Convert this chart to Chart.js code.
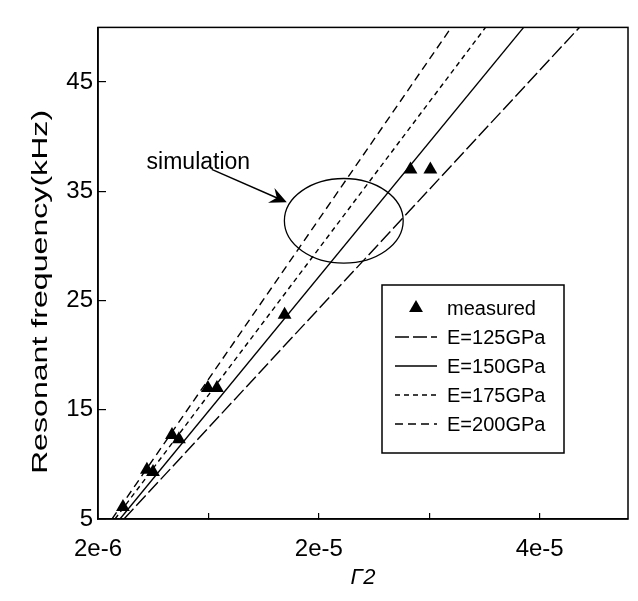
<!DOCTYPE html>
<html><head><meta charset="utf-8">
<script src="https://cdn.jsdelivr.net/npm/chart.js@4.4.0/dist/chart.umd.min.js"></script>
<style>html,body{margin:0;padding:0;background:#fff;} #wrap{width:638px;height:601px;}</style>
</head><body><div id="wrap"><canvas id="c" width="638" height="601"></canvas></div>
<script>
// ---- data ----
const seriesLabels = ['measured', 'E=125GPa', 'E=150GPa', 'E=175GPa', 'E=200GPa'];
const measuredX = [2.26e-6, 4.43e-6, 4.98e-6, 6.70e-6, 7.33e-6, 9.95e-6, 1.077e-5, 1.69e-5, 2.83e-5, 3.01e-5];
const measuredY = [6.1, 9.5, 9.3, 12.7, 12.3, 17.0, 17.0, 23.7, 37.0, 37.0];
const simY  = [5, 50];
const e125X = [2.35e-6, 4.36e-5];
const e150X = [1.99e-6, 3.855e-5];
const e175X = [1.54e-6, 3.51e-5];
const e200X = [1.27e-6, 3.20e-5];
const xTickValues = [0, 1e-5, 2e-5, 3e-5, 4e-5];
const xTickLabels = ['2e-6', '', '2e-5', '', '4e-5'];
const yTickValues = [5, 15, 25, 35, 45];
const yTickLabels = ['5', '15', '25', '35', '45'];
const xTitle = 'Γ2';
const yTitle = 'Resonant frequency(kHz)';
const noteText = 'simulation';
const ellipseCenter = [2.226e-5, 32.3];
const ellipseRadii = [5.38e-6, 3.87];
const arrowFrom = [1.03e-5, 37.0];
const arrowTo = [1.71e-5, 34.0];
const noteAt = [0.44e-5, 37.6];

const FONT = "'Liberation Sans', Arial, Helvetica, sans-serif";
const pts = (xs, ys) => xs.map((x, i) => ({x: x, y: ys[i]}));

const lineStyles = [
  {dash: [14, 4]},
  {dash: []},
  {dash: [5, 4]},
  {dash: [8, 5]}
];
const simX = [e125X, e150X, e175X, e200X];

const datasets = [{
  label: seriesLabels[0],
  data: pts(measuredX, measuredY),
  showLine: false,
  pointStyle: 'triangle',
  pointRadius: 8,
  backgroundColor: '#000',
  borderColor: '#000',
  borderWidth: 0
}];
simX.forEach((xs, k) => {
  datasets.push({
    label: seriesLabels[k + 1],
    data: pts(xs, simY),
    showLine: true,
    pointRadius: 0,
    borderColor: '#000',
    borderWidth: 1.4,
    borderDash: lineStyles[k].dash,
    fill: false
  });
});

const decor = {
  id: 'decor',
  afterDatasetsDraw(chart) {
    const {ctx, chartArea: a, scales: {x, y}} = chart;
    ctx.save();
    // frame
    ctx.strokeStyle = '#000';
    ctx.lineWidth = 1.5;
    ctx.strokeRect(a.left, a.top, a.right - a.left, a.bottom - a.top);
    // ellipse
    const cx = x.getPixelForValue(ellipseCenter[0]);
    const cy = y.getPixelForValue(ellipseCenter[1]);
    const rx = x.getPixelForValue(ellipseCenter[0] + ellipseRadii[0]) - cx;
    const ry = cy - y.getPixelForValue(ellipseCenter[1] + ellipseRadii[1]);
    ctx.lineWidth = 1.3;
    ctx.beginPath();
    ctx.ellipse(cx, cy, rx, ry, 0, 0, Math.PI * 2);
    ctx.stroke();
    // arrow
    const x1 = x.getPixelForValue(arrowFrom[0]), y1 = y.getPixelForValue(arrowFrom[1]);
    const x2 = x.getPixelForValue(arrowTo[0]), y2 = y.getPixelForValue(arrowTo[1]);
    const ang = Math.atan2(y2 - y1, x2 - x1);
    ctx.lineWidth = 1.4;
    ctx.beginPath(); ctx.moveTo(x1, y1); ctx.lineTo(x2 - 8 * Math.cos(ang), y2 - 8 * Math.sin(ang)); ctx.stroke();
    ctx.save();
    ctx.translate(x2, y2); ctx.rotate(ang);
    ctx.fillStyle = '#000';
    ctx.beginPath();
    ctx.moveTo(0, 0); ctx.lineTo(-17, -8); ctx.lineTo(-11, 0); ctx.lineTo(-17, 8); ctx.closePath();
    ctx.fill();
    ctx.restore();
    // note text
    ctx.fillStyle = '#000';
    ctx.font = '23px ' + FONT;
    ctx.textAlign = 'left'; ctx.textBaseline = 'middle';
    ctx.fillText(noteText, x.getPixelForValue(noteAt[0]), y.getPixelForValue(noteAt[1]));
    // legend
    const L = {x0: 382, y0: 285, w: 182, h: 168, row0: 308, step: 29, s0: 395, s1: 437, tx: 447};
    ctx.lineWidth = 1.5;
    ctx.fillStyle = '#fff';
    ctx.fillRect(L.x0, L.y0, L.w, L.h);
    ctx.strokeRect(L.x0, L.y0, L.w, L.h);
    ctx.font = '20px ' + FONT;
    chart.data.datasets.forEach((ds, i) => {
      const ry2 = L.row0 + i * L.step;
      ctx.fillStyle = '#000';
      if (i === 0) {
        const cxm = (L.s0 + L.s1) / 2, r = 8;
        ctx.beginPath();
        ctx.moveTo(cxm, ry2 - r);
        ctx.lineTo(cxm + r * 0.866, ry2 + r * 0.5);
        ctx.lineTo(cxm - r * 0.866, ry2 + r * 0.5);
        ctx.closePath(); ctx.fill();
      } else {
        ctx.save();
        ctx.lineWidth = 1.4;
        ctx.setLineDash(ds.borderDash);
        ctx.beginPath(); ctx.moveTo(L.s0, ry2); ctx.lineTo(L.s1, ry2); ctx.stroke();
        ctx.restore();
      }
      ctx.fillText(ds.label, L.tx, ry2 + 1);
    });
    // y title (stretched like the reference)
    ctx.save();
    ctx.translate(41, 292);
    ctx.rotate(-Math.PI / 2);
    ctx.scale(1.46, 1);
    ctx.font = '22px ' + FONT;
    ctx.textAlign = 'center'; ctx.textBaseline = 'middle';
    ctx.fillStyle = '#000';
    ctx.fillText(yTitle, 0, 0);
    ctx.restore();
    ctx.restore();
  }
};

new Chart(document.getElementById('c'), {
  type: 'scatter',
  data: {datasets: datasets},
  plugins: [decor],
  options: {
    responsive: false,
    animation: false,
    devicePixelRatio: 1,
    layout: {padding: {top: 8, right: 10, left: 0, bottom: 0}},
    plugins: {legend: {display: false}, tooltip: {enabled: false}},
    scales: {
      x: {
        type: 'linear', min: 0, max: 4.8e-5,
        afterBuildTicks: s => { s.ticks = xTickValues.map(v => ({value: v})); },
        afterFit: s => { s.height = 82; },
        ticks: {callback: (v, i) => xTickLabels[i], padding: 22, color: '#000',
                font: {family: FONT, size: 24}, maxRotation: 0, autoSkip: false},
        grid: {drawOnChartArea: false, tickLength: -6, color: '#000', lineWidth: 1.2},
        border: {display: true, color: '#000', width: 1.5},
        title: {display: true, text: xTitle, color: '#000', font: {family: FONT, size: 22, style: 'italic'},
                padding: {top: 0, bottom: 10}}
      },
      y: {
        type: 'linear', min: 5, max: 50,
        afterBuildTicks: s => { s.ticks = yTickValues.map(v => ({value: v})); },
        afterFit: s => { s.width = 98; },
        ticks: {callback: (v, i) => yTickLabels[i], padding: 13, color: '#000',
                font: {family: FONT, size: 24}, autoSkip: false},
        grid: {drawOnChartArea: false, tickLength: -8, color: '#000', lineWidth: 1.2},
        border: {display: true, color: '#000', width: 1.5},
        title: {display: false}
      }
    }
  }
});
</script></body></html>
